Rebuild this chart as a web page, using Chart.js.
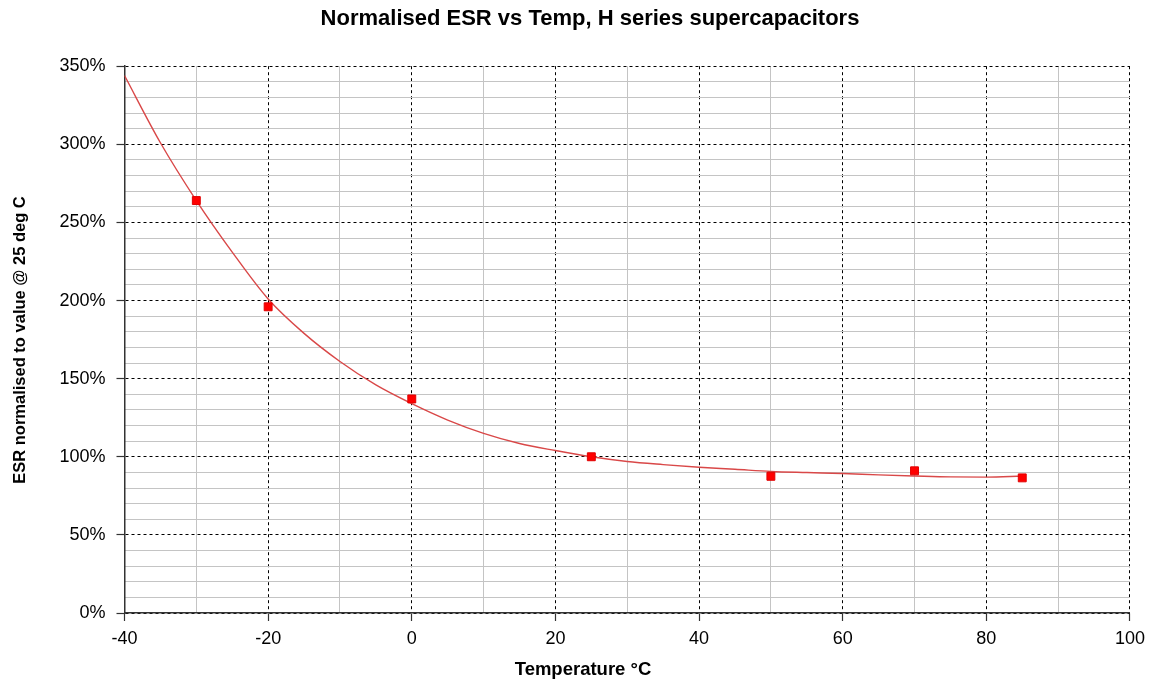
<!DOCTYPE html>
<html>
<head>
<meta charset="utf-8">
<script src="https://cdn.jsdelivr.net/npm/chart.js@4/dist/chart.umd.min.js"></script>
<style>
html,body{margin:0;padding:0;background:#fff;}
#c{display:block;}
</style>
</head>
<body>
<canvas id="c" width="1152" height="684"></canvas>
<script>
// Measured data points (temperature °C, ESR normalised %)
const pointTemps = [-30, -20, 0, 25, 50, 70, 85];
const pointESR   = [264, 196, 137, 100, 87.5, 91, 86.5];

// Trend curve
const curveTemps = [-40, -35, -30, -25, -20, -15, -10, -5, 0, 5, 10, 15, 20, 25, 30, 35, 40, 45, 50, 55, 60, 65, 70, 75, 80, 85];
const curveESR   = [344, 301, 264, 231, 201, 179, 161, 146, 134, 123.5, 115, 108.5, 104, 100, 97, 95, 93.3, 92, 90.6, 89.9, 89.3, 88.4, 87.7, 87.1, 87.0, 87.7];

// Axis settings
const xMin = -40, xMax = 100, xMajor = 20, xMinor = 10;
const yMin = 0, yMax = 350, yMajor = 50, yMinor = 10;

const titleText = 'Normalised ESR vs Temp, H series supercapacitors';
const xTitle = 'Temperature \u00B0C';
const yTitle = 'ESR normalised to value @ 25 deg C';

const pts = pointTemps.map((t, i) => ({x: t, y: pointESR[i]}));
const crv = curveTemps.map((t, i) => ({x: t, y: curveESR[i]}));

const FONT = 'Arial, "Liberation Sans", sans-serif';

const titlesPlugin = {
  id: 'titles',
  afterDraw(chart) {
    const ctx = chart.ctx;
    ctx.save();
    ctx.fillStyle = '#000';
    ctx.textAlign = 'center';
    ctx.textBaseline = 'middle';
    ctx.font = 'bold 22px ' + FONT;
    ctx.fillText(titleText, 590, 19);
    ctx.font = 'bold 18.5px ' + FONT;
    ctx.fillText(xTitle, 583, 670);
    ctx.translate(20, 340);
    ctx.rotate(-Math.PI / 2);
    ctx.font = 'bold 16.5px ' + FONT;
    ctx.fillText(yTitle, 0, 0);
    ctx.restore();
  }
};

new Chart(document.getElementById('c'), {
  type: 'scatter',
  data: {
    datasets: [
      {
        label: 'trend',
        data: crv,
        showLine: true,
        borderColor: '#d94848',
        borderWidth: 1.4,
        pointRadius: 0,
        pointHoverRadius: 0,
        cubicInterpolationMode: 'monotone',
        fill: false,
        order: 2
      },
      {
        label: 'measured',
        data: pts,
        pointStyle: 'rect',
        pointRadius: 5.6,
        backgroundColor: '#ff0000',
        borderColor: '#e00000',
        borderWidth: 1,
        showLine: false,
        order: 1
      }
    ]
  },
  plugins: [titlesPlugin],
  options: {
    responsive: false,
    animation: false,
    layout: {padding: {left: 0, right: 22, top: 66.2, bottom: 0}},
    plugins: {
      legend: {display: false},
      tooltip: {enabled: false},
      title: {display: false}
    },
    scales: {
      x: {
        type: 'linear',
        position: 'bottom',
        min: xMin, max: xMax,
        ticks: {stepSize: xMajor, color: '#000', font: {family: FONT, size: 18}, padding: 7, maxRotation: 0},
        grid: {color: '#000', lineWidth: 1, tickColor: '#333', tickLength: 8, tickWidth: 1.2},
        border: {display: true, color: '#333', width: 1.5, dash: [3, 3]},
        afterFit: s => { s.height = 71; }
      },
      xm: {
        type: 'linear',
        position: 'bottom',
        min: xMin, max: xMax,
        z: -1,
        ticks: {display: false, stepSize: xMinor},
        grid: {drawTicks: false, lineWidth: 1, color: c => (c.tick && c.tick.value % xMajor === 0) ? 'rgba(0,0,0,0)' : '#c4c4c4'},
        border: {display: false},
        afterFit: s => { s.height = 0; }
      },
      y: {
        type: 'linear',
        position: 'left',
        min: yMin, max: yMax,
        ticks: {stepSize: yMajor, color: '#000', font: {family: FONT, size: 18}, padding: 11, callback: v => v + '%'},
        grid: {color: '#000', lineWidth: 1, tickColor: '#333', tickLength: 8, tickWidth: 1.2},
        border: {display: true, color: '#333', width: 1.5, dash: [3, 3]},
        afterFit: s => { s.width = 124.5; }
      },
      ym: {
        type: 'linear',
        position: 'left',
        min: yMin, max: yMax,
        z: -1,
        ticks: {display: false, stepSize: yMinor},
        grid: {drawTicks: false, lineWidth: 1, color: c => (c.tick && c.tick.value % yMajor === 0) ? 'rgba(0,0,0,0)' : '#c4c4c4'},
        border: {display: false},
        afterFit: s => { s.width = 0; }
      }
    }
  }
});
</script>
</body>
</html>
